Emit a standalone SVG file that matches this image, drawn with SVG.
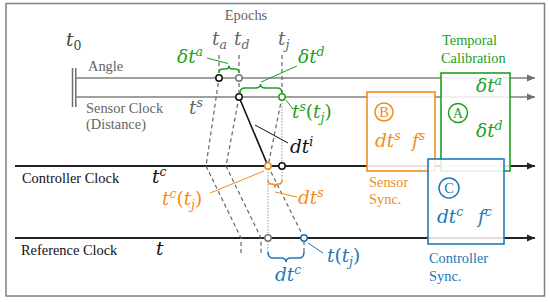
<svg xmlns="http://www.w3.org/2000/svg" width="550" height="302" viewBox="0 0 550 302">
<style>
.lbl{font-family:"Liberation Serif","Times New Roman",serif;font-size:14.4px}
.m{font-family:"DejaVu Serif",serif;font-style:italic;font-size:18.5px}
.s{font-size:12.5px}
.up{font-style:normal}
.gray{fill:#666}
.grn{fill:#1ea01e}
.org{fill:#f28c1c}
.blu{fill:#2277b8}
.dash{fill:none;stroke:#666;stroke-width:1.2;stroke-dasharray:4 3}
.dot{fill:none;stroke:#aaa;stroke-width:1.2;stroke-dasharray:1.5 1.5}
.pt{fill:#fff;stroke-width:1.5}
.brace{fill:none;stroke-width:1.5}
</style>
<defs>
<marker id="arrG" markerWidth="9" markerHeight="8" refX="8" refY="4" orient="auto" markerUnits="userSpaceOnUse"><path d="M0,0.5 L8,4 L0,7.5 Z" fill="#6f6f6f"/></marker>
<marker id="arrK" markerWidth="9" markerHeight="8" refX="8" refY="4" orient="auto" markerUnits="userSpaceOnUse"><path d="M0,0.5 L8,4 L0,7.5 Z" fill="#222"/></marker>
</defs>
<rect width="550" height="302" fill="#fff"/>
<rect id="frame" x="6" y="3.5" width="538.5" height="292.5" fill="none" stroke="#808080" stroke-width="1.5"/>

<g id="clock-lines">
<line x1="72.5" y1="68" x2="72.5" y2="107" stroke="#6f6f6f" stroke-width="1.5"/>
<line x1="75.8" y1="68" x2="75.8" y2="107" stroke="#6f6f6f" stroke-width="1.5"/>
<line x1="76" y1="78" x2="535" y2="78" stroke="#808080" stroke-width="1.5" marker-end="url(#arrG)"/>
<line x1="76" y1="97" x2="535" y2="97" stroke="#808080" stroke-width="1.5" marker-end="url(#arrG)"/>
<line x1="15" y1="166" x2="535" y2="166" stroke="#222" stroke-width="2" marker-end="url(#arrK)"/>
<line x1="15" y1="238" x2="535" y2="238" stroke="#222" stroke-width="2" marker-end="url(#arrK)"/>
</g>

<g id="connectors">
<polyline class="dash" points="219,55 219,78 206,166 241,238 241,254"/>
<polyline class="dash" points="239,55 239,97 226,166 261,238 261,254"/>
<polyline class="dash" points="282,55 282,97 268,166 304,238 304,254"/>
<polyline class="dot" points="282,97 282,182"/>
<polyline class="dot" points="268,166 268,254"/>
<line x1="239" y1="97" x2="268" y2="166" stroke="#111" stroke-width="1.6"/>
<line x1="255" y1="125" x2="288" y2="143" stroke="#111" stroke-width="1"/>
<line x1="207" y1="58" x2="228" y2="63.5" stroke="#1ea01e" stroke-width="1"/>
<line x1="261" y1="82" x2="297" y2="66" stroke="#1ea01e" stroke-width="1"/>
<line x1="286" y1="100" x2="293" y2="109" stroke="#1ea01e" stroke-width="1"/>
<line x1="210" y1="193" x2="264" y2="171" stroke="#f28c1c" stroke-width="1"/>
<line x1="275" y1="192" x2="297" y2="197" stroke="#f28c1c" stroke-width="1"/>
<line x1="308" y1="243" x2="323" y2="253" stroke="#2277b8" stroke-width="1"/>
<path class="brace" stroke="#1ea01e" d="M219,73 Q219,69 223,69 L225.5,69 Q229,69 229,65.5 Q229,69 232.5,69 L235,69 Q239,69 239,73"/>
<path class="brace" stroke="#1ea01e" d="M240,93 Q240,88 245,88 L255.5,88 Q260.5,88 260.5,84 Q260.5,88 265.5,88 L277,88 Q282,88 282,93"/>
<path class="brace" stroke="#f28c1c" d="M268,180 Q268,184 271,184 L272,184 Q275,184 275,187.5 Q275,184 278,184 L279,184 Q282,184 282,180"/>
<path class="brace" stroke="#2277b8" d="M268,252 Q268,258 273,258 L281,258 Q286,258 286,262 Q286,258 291,258 L299,258 Q304,258 304,252"/>
<circle class="pt" cx="219" cy="78" r="3.2" stroke="#111"/>
<circle class="pt" cx="239" cy="78" r="3.2" stroke="#777"/>
<circle class="pt" cx="239" cy="97" r="3.2" stroke="#111"/>
<circle class="pt" cx="282" cy="97" r="3.2" stroke="#1ea01e"/>
<circle class="pt" cx="268" cy="166" r="3.2" stroke="#f28c1c"/>
<circle class="pt" cx="282" cy="166" r="3.2" stroke="#111"/>
<circle class="pt" cx="268" cy="238" r="3.2" stroke="#777"/>
<circle class="pt" cx="304" cy="238" r="3.2" stroke="#2277b8"/>
</g>

<g id="labels">
<text class="m" x="66" y="46" fill="#444">t<tspan class="s up" dy="4">0</tspan></text>
<text class="lbl gray" x="246" y="20" text-anchor="middle">Epochs</text>
<text class="m gray" x="212" y="45">t<tspan class="s" dy="4">a</tspan></text>
<text class="m gray" x="234" y="45">t<tspan class="s" dy="4">d</tspan></text>
<text class="m gray" x="278" y="45">t<tspan class="s" dy="4">j</tspan></text>
<text class="lbl gray" x="88" y="71">Angle</text>
<text class="lbl gray" x="86" y="113">Sensor Clock</text>
<text class="lbl gray" x="86" y="129">(Distance)</text>
<text class="m gray" x="189" y="114">t<tspan class="s" dy="-7.5">s</tspan></text>
<text class="lbl" x="22" y="183" fill="#111">Controller Clock</text>
<text class="lbl" x="21" y="255" fill="#111">Reference Clock</text>
<text class="m" x="152" y="183" fill="#111">t<tspan class="s" dy="-7.5">c</tspan></text>
<text class="m" x="156" y="255" fill="#111">t</text>
<text class="m grn" x="177" y="63">δt<tspan class="s" dy="-7.5">a</tspan></text>
<text class="m grn" x="298" y="63">δt<tspan class="s" dy="-7.5">d</tspan></text>
<text class="m grn" x="292" y="118">t<tspan class="s" dy="-7.5">s</tspan><tspan class="up" dy="7.5">(</tspan>t<tspan class="s" dy="4">j</tspan><tspan class="up" dy="-4">)</tspan></text>
<text class="m" x="290" y="153" fill="#111">dt<tspan class="s" dy="-7.5">i</tspan></text>
<text class="m org" x="162" y="205">t<tspan class="s" dy="-7.5">c</tspan><tspan class="up" dy="7.5">(</tspan>t<tspan class="s" dy="4">j</tspan><tspan class="up" dy="-4">)</tspan></text>
<text class="m org" x="298" y="204">dt<tspan class="s" dy="-7.5">s</tspan></text>
<text class="m blu" x="327" y="262">t<tspan class="up">(</tspan>t<tspan class="s" dy="4">j</tspan><tspan class="up" dy="-4">)</tspan></text>
<text class="m blu" x="275" y="281">dt<tspan class="s" dy="-7.5">c</tspan></text>
</g>

<g id="box-B">
<rect x="367" y="92" width="68" height="79" fill="#fff" fill-opacity="0.88" stroke="#f28c1c" stroke-width="1.6"/>
<circle cx="384" cy="112" r="9" fill="none" stroke="#f28c1c" stroke-width="1.5"/>
<text class="lbl org" x="384" y="117" text-anchor="middle" font-size="13">B</text>
<text class="m org" x="375" y="147">dt<tspan class="s" dy="-7.5">s</tspan></text>
<text class="m org" x="412" y="147">f<tspan class="s" dy="-7.5">s</tspan></text>
<text class="lbl org" x="369" y="187">Sensor</text>
<text class="lbl org" x="369" y="204">Sync.</text>
</g>

<g id="box-A">
<rect x="441" y="73" width="69" height="98" fill="#fff" fill-opacity="0.85" stroke="#1ea01e" stroke-width="1.6"/>
<circle cx="458" cy="113" r="9.5" fill="none" stroke="#1ea01e" stroke-width="1.5"/>
<text class="lbl grn" x="458" y="118" text-anchor="middle" font-size="13">A</text>
<text class="m grn" x="476" y="92">δt<tspan class="s" dy="-7.5">a</tspan></text>
<text class="m grn" x="476" y="137">δt<tspan class="s" dy="-7.5">d</tspan></text>
<text class="lbl grn" x="442" y="45">Temporal</text>
<text class="lbl grn" x="441" y="63">Calibration</text>
</g>

<g id="box-C">
<rect x="428" y="159" width="76" height="85" fill="#fff" fill-opacity="0.85" stroke="#2277b8" stroke-width="1.6"/>
<circle cx="449" cy="188" r="10" fill="none" stroke="#2277b8" stroke-width="1.5"/>
<text class="lbl blu" x="449" y="193" text-anchor="middle" font-size="13">C</text>
<text class="m blu" x="437" y="223">dt<tspan class="s" dy="-7.5">c</tspan></text>
<text class="m blu" x="478" y="223">f<tspan class="s" dy="-7.5">c</tspan></text>
<text class="lbl blu" x="429" y="263">Controller</text>
<text class="lbl blu" x="429" y="281">Sync.</text>
</g>
</svg>
